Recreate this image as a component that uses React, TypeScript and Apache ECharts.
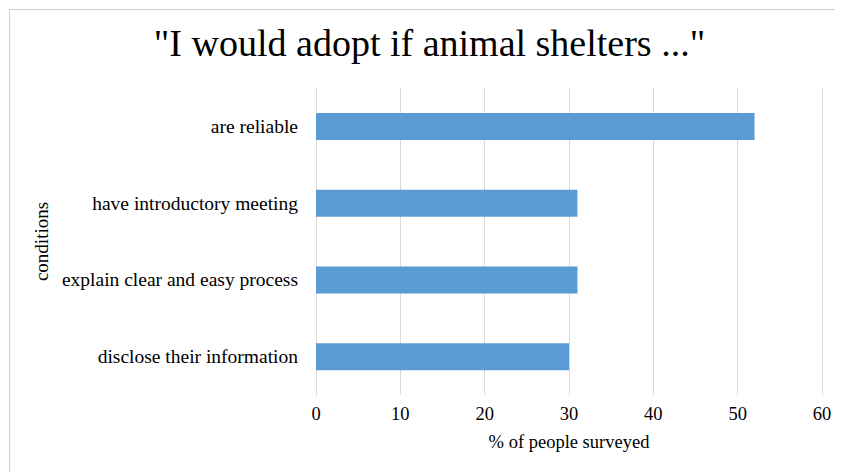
import React, { useEffect, useRef } from "react";
import * as echarts from "echarts";

const titleText = '"I would adopt if animal shelters ..."';
const categories = [
  "disclose their information",
  "explain clear and easy process",
  "have introductory meeting",
  "are reliable",
];
const values = [30, 31, 31, 52];
const xAxisName = "% of people surveyed";
const yAxisName = "conditions";

const FONT = '"Liberation Serif", "Times New Roman", serif';

export default function App() {
  const ref = useRef<HTMLDivElement>(null);
  useEffect(() => {
    if (!ref.current) return;
    const chart = echarts.init(ref.current, undefined, { renderer: "svg" });
    chart.setOption({
      animation: false,
      backgroundColor: "#ffffff",
      graphic: [
        {
          type: "rect",
          silent: true,
          z: 100,
          left: 0,
          top: 0,
          shape: { x: 0, y: 0, width: 870, height: 500 },
          style: { fill: "none", stroke: "#d0d0d0", lineWidth: 1 },
        },
      ],
      title: {
        text: titleText,
        left: "center",
        top: 12,
        textStyle: { fontFamily: FONT, fontSize: 38, fontWeight: "normal", color: "#000" },
      },
      grid: { left: 309, right: 30, top: 81, bottom: 85 },
      xAxis: {
        type: "value",
        min: 0,
        max: 60,
        interval: 10,
        name: xAxisName,
        nameLocation: "middle",
        nameGap: 37,
        nameTextStyle: { fontFamily: FONT, fontSize: 18.5, color: "#000" },
        axisLine: { show: false },
        axisTick: { show: false },
        axisLabel: { fontFamily: FONT, fontSize: 18.5, color: "#000", margin: 9 },
        splitLine: { show: true, lineStyle: { color: "#d9d9d9", width: 1 } },
      },
      yAxis: {
        type: "category",
        data: categories,
        name: yAxisName,
        nameLocation: "middle",
        nameGap: 263,
        nameRotate: 90,
        nameTextStyle: { fontFamily: FONT, fontSize: 19, color: "#000" },
        axisLine: { show: true, lineStyle: { color: "#d9d9d9", width: 1 } },
        axisTick: { show: false },
        axisLabel: { fontFamily: FONT, fontSize: 19.5, color: "#000", margin: 18 },
        splitLine: { show: false },
      },
      series: [
        {
          type: "bar",
          data: values,
          barWidth: 27,
          itemStyle: { color: "#5b9bd5" },
        },
      ],
    });
    return () => chart.dispose();
  }, []);
  return (
    <div style={{ margin: "-1px 0 0 -1px" }}>
      <div ref={ref} style={{ width: 845, height: 473 }} />
    </div>
  );
}
